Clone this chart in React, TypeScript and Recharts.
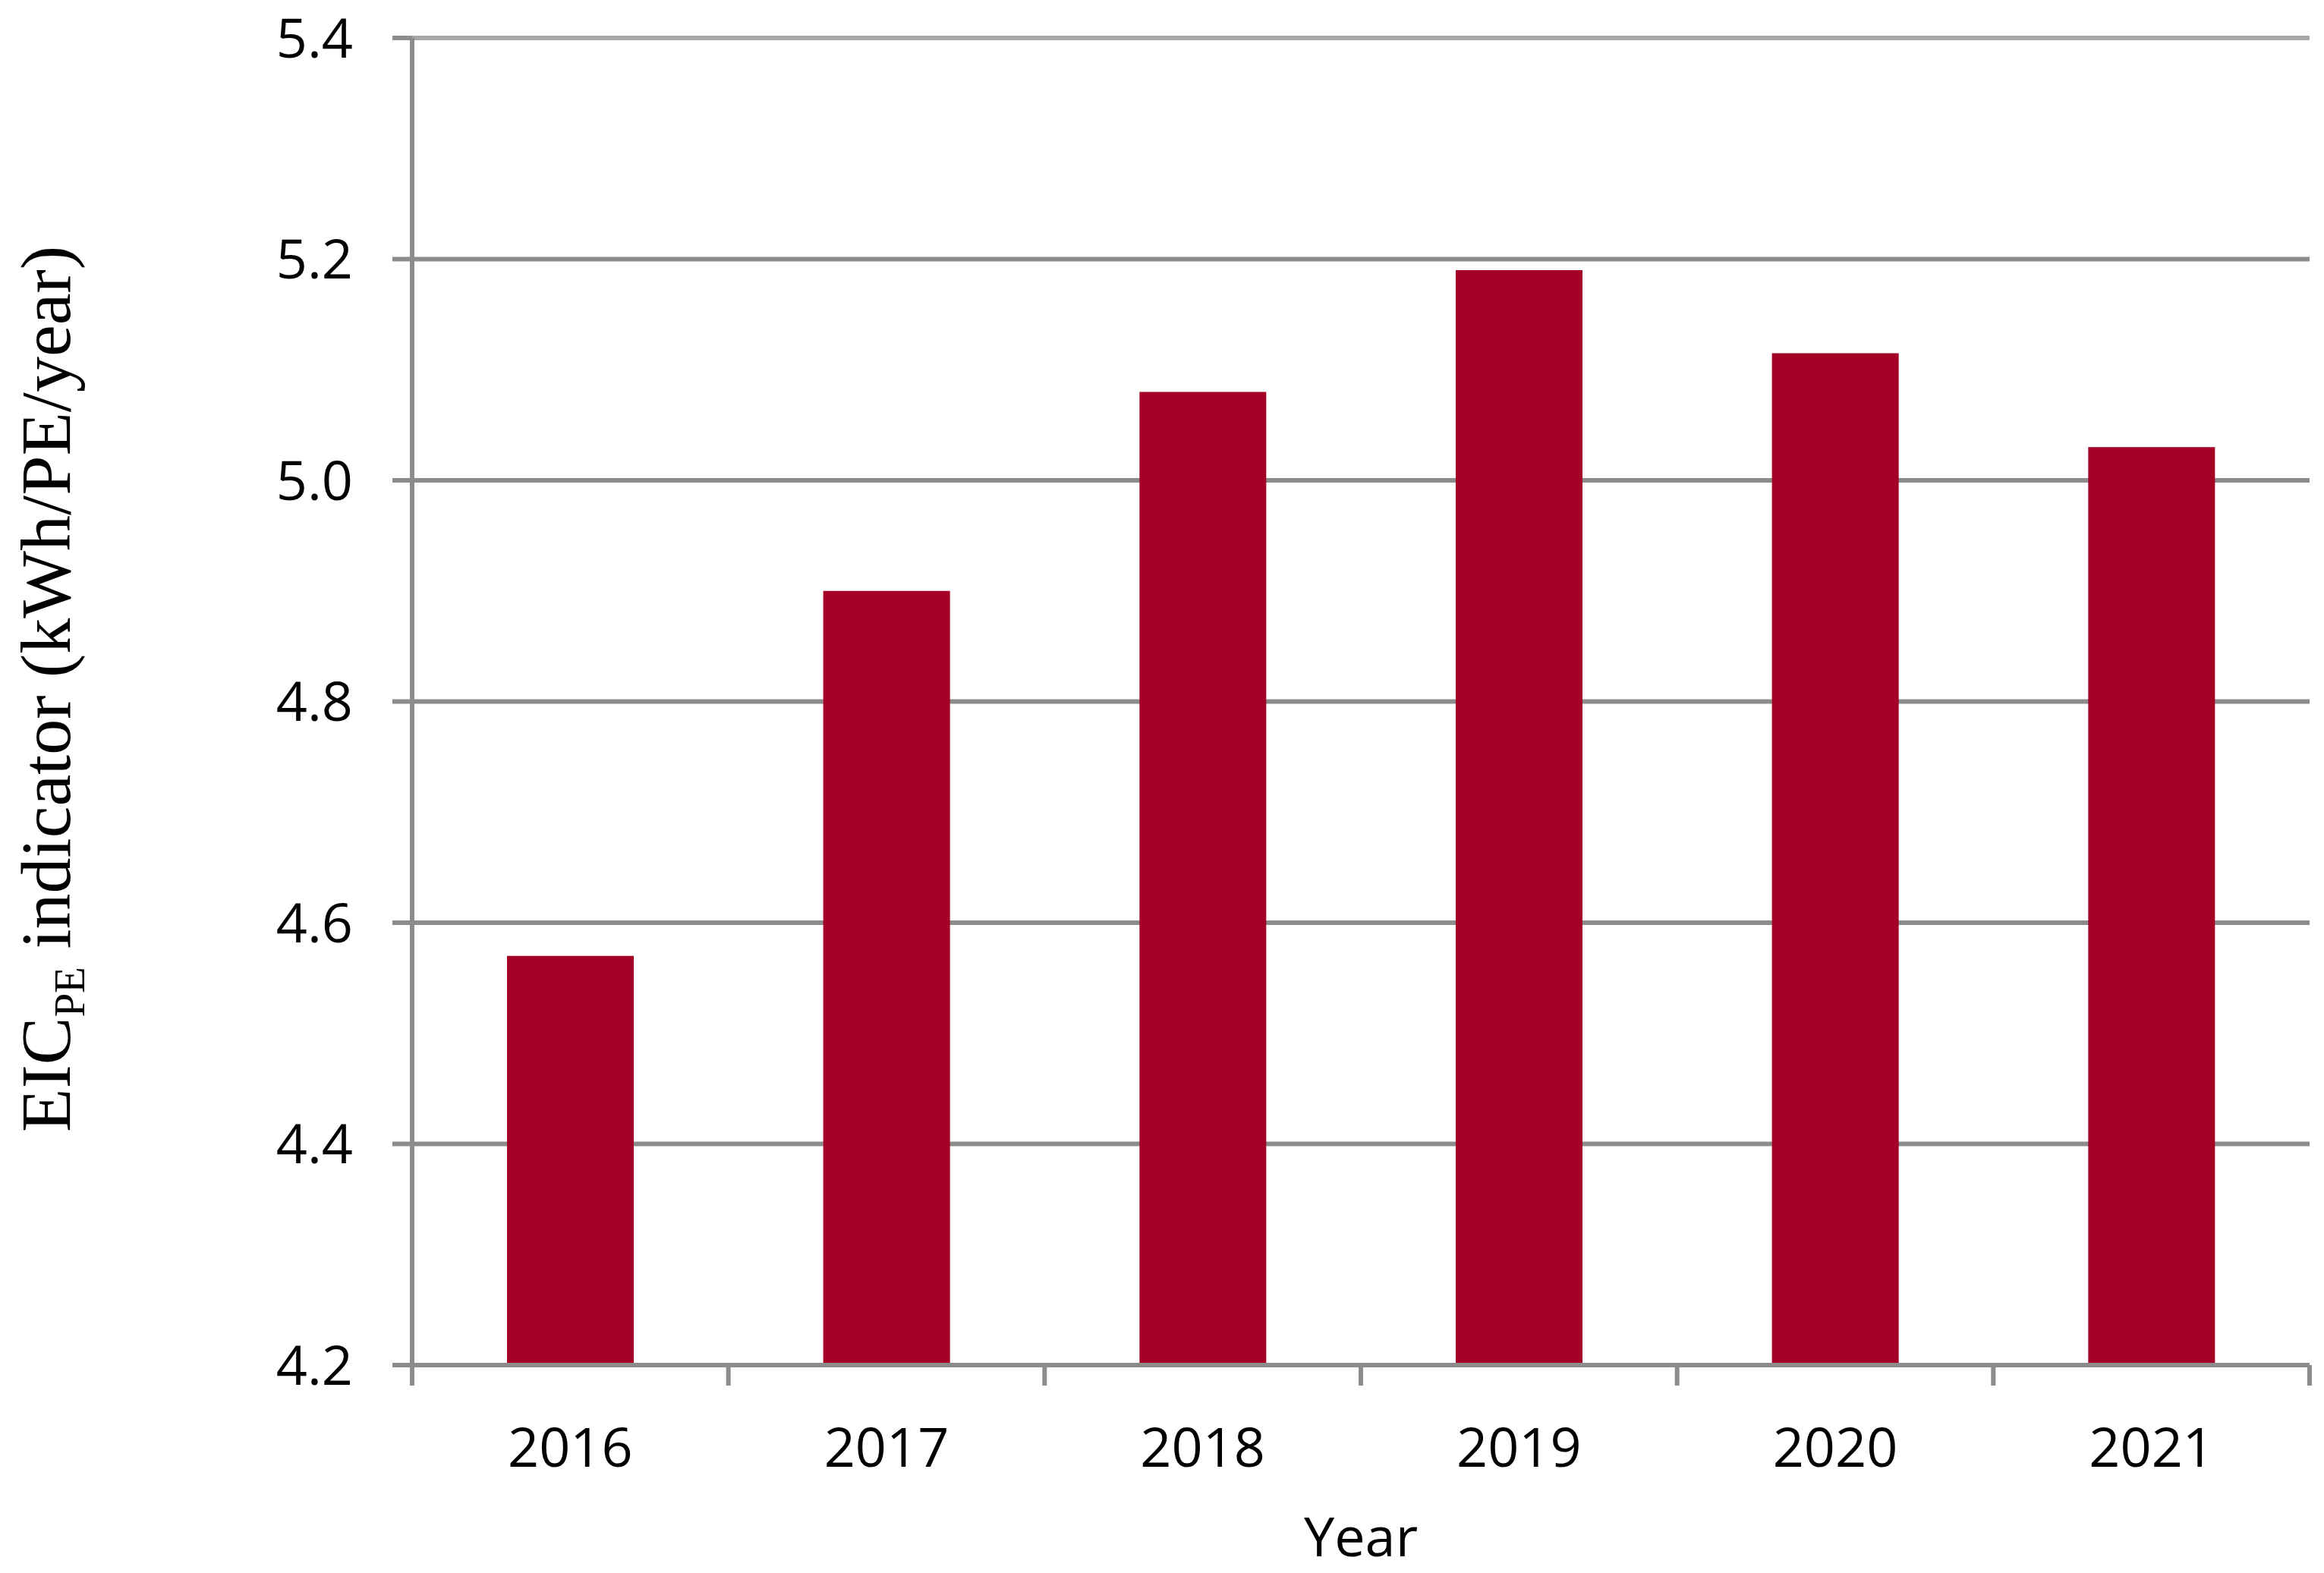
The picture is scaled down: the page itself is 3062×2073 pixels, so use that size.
import React from "react";
import {
  BarChart,
  Bar,
  XAxis,
  YAxis,
  CartesianGrid,
  ReferenceLine,
  Label,
} from "recharts";

const years = ["2016", "2017", "2018", "2019", "2020", "2021"];
const eicValues = [4.57, 4.9, 5.08, 5.19, 5.115, 5.03];
const yTicks = [4.2, 4.4, 4.6, 4.8, 5.0, 5.2, 5.4];

const data = years.map((year, i) => ({ year, value: eicValues[i] }));

const GRID = "#8c8c8c";
const FRAME = "#a6a6a6";
const BAR = "#a50026";
const SANS = "'Open Sans', 'Noto Sans', sans-serif";
const SERIF = "'Liberation Serif', 'DejaVu Serif', serif";
const X_TICK_MARGIN = 83;
const X_TICK_LEN = 27;

// year label plus Excel-style tick marks between the categories
const YearTick = (props: any) => {
  const { x, y, payload, index, visibleTicksCount, width } = props;
  const half = payload?.offset || width / visibleTicksCount / 2;
  const axisY = y - X_TICK_MARGIN;
  const tickAt = (tx: number) => (
    <line
      x1={tx}
      x2={tx}
      y1={axisY}
      y2={axisY + X_TICK_LEN}
      stroke={GRID}
      strokeWidth={6}
    />
  );
  return (
    <g>
      {tickAt(x - half)}
      {index === visibleTicksCount - 1 && tickAt(x + half)}
      <text
        x={x}
        y={y}
        dy="0.71em"
        textAnchor="middle"
        fontFamily={SANS}
        fontSize={72}
        fill="#000"
      >
        {payload.value}
      </text>
    </g>
  );
};

// rotated y-axis title with the PE subscript
const YTitle = () => (
  <text
    x={92}
    y={908}
    transform="rotate(-90, 92, 908)"
    textAnchor="middle"
    fontFamily={SERIF}
    fontSize={94}
    fill="#000"
  >
    EIC
    <tspan fontSize={57} dy={19}>PE</tspan>
    <tspan dy={-19}> indicator (kWh/PE/year)</tspan>
  </text>
);

export default function App() {
  return (
    <div style={{ position: "absolute", left: 0, top: 0, background: "#fff" }}>
      <BarChart
        width={3062}
        height={2073}
        data={data}
        margin={{ top: 50, right: 19, left: 0, bottom: 0 }}
        barCategoryGap="30%"
      >
        <CartesianGrid vertical={false} stroke={GRID} strokeWidth={6} />
        <XAxis
          dataKey="year"
          height={274}
          tickLine={false}
          tickSize={0}
          tickMargin={X_TICK_MARGIN}
          axisLine={{ stroke: GRID, strokeWidth: 6 }}
          tick={<YearTick />}
          interval={0}
        >
          <Label
            value="Year"
            position="insideBottom"
            offset={22}
            style={{ fontFamily: SANS, fontSize: 72, fill: "#000" }}
          />
        </XAxis>
        <YAxis
          domain={[4.2, 5.4]}
          ticks={yTicks}
          width={543}
          tickSize={26}
          tickMargin={52}
          tickFormatter={(v: number) => v.toFixed(1)}
          axisLine={{ stroke: GRID, strokeWidth: 6 }}
          tickLine={{ stroke: GRID, strokeWidth: 6 }}
          tick={{ fontFamily: SANS, fontSize: 72, fill: "#000" }}
        >
          <Label content={<YTitle />} />
        </YAxis>
        <YAxis
          yAxisId="frame"
          orientation="right"
          domain={[4.2, 5.4]}
          width={0}
          tick={false}
          tickLine={false}
          axisLine={{ stroke: FRAME, strokeWidth: 6 }}
        />
        <ReferenceLine y={5.4} stroke={FRAME} strokeWidth={6} />
        <Bar dataKey="value" fill={BAR} isAnimationActive={false} />
      </BarChart>
    </div>
  );
}
